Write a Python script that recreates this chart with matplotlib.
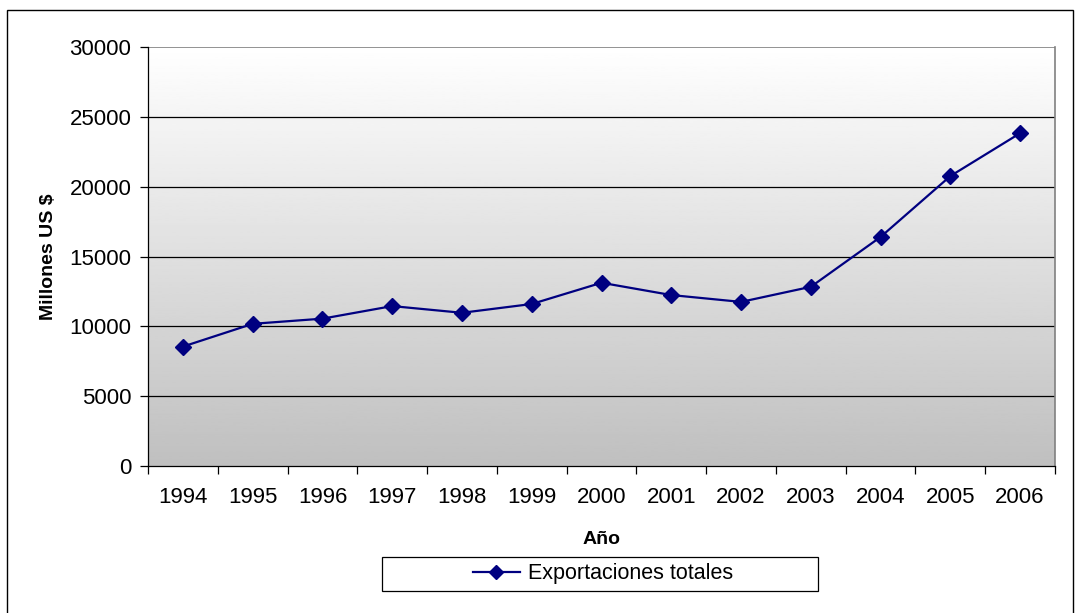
import matplotlib
matplotlib.use('Agg')
import matplotlib.pyplot as plt
import numpy as np
from matplotlib.patches import Rectangle

plt.rcParams['font.family'] = ['Liberation Sans', 'DejaVu Sans']

years = ['1994', '1995', '1996', '1997', '1998', '1999', '2000',
         '2001', '2002', '2003', '2004', '2005', '2006']
exports = [8550, 10180, 10550, 11450, 10970, 11600, 13120,
           12240, 11750, 12830, 16400, 20760, 23830]
yticks = [0, 5000, 10000, 15000, 20000, 25000, 30000]
series_name = 'Exportaciones totales'


def main():
    fig = plt.figure(figsize=(10.75, 6.13), dpi=100)
    ax = fig.add_axes([0.1377, 0.2398, 0.8437, 0.6835])

    x = np.arange(len(years))
    ax.set_xlim(-0.5, len(years) - 0.5)
    ax.set_ylim(0, 30000)

    # gradient background, white at top to grey at bottom
    grad = np.linspace(0.75, 1.0, 256).reshape(-1, 1)
    ax.imshow(grad, cmap='gray', vmin=0, vmax=1, aspect='auto', origin='lower',
              extent=[-0.5, len(years) - 0.5, 0, 30000], zorder=0)

    for t in yticks[1:-1]:
        ax.axhline(t, color='black', lw=0.9, zorder=1)
    ax.axhline(30000, color='#808080', lw=1.2, zorder=1)

    ax.plot(x, exports, color='#000080', lw=1.6, marker='D', markersize=8,
            label=series_name, zorder=3)

    ax.set_yticks(yticks)
    ax.set_yticklabels([str(t) for t in yticks], fontsize=16)
    ax.set_xticks(x)
    ax.set_xticklabels(years, fontsize=16)
    ax.set_xticks(np.arange(-0.5, len(years)), minor=True)
    ax.tick_params(axis='x', which='major', length=0, pad=15)
    ax.tick_params(axis='x', which='minor', length=6, direction='out', width=0.9)
    ax.tick_params(axis='y', length=6, direction='out', width=0.9, pad=6)

    for s in ['left', 'bottom']:
        ax.spines[s].set_color('black')
        ax.spines[s].set_linewidth(0.9)
    ax.spines['right'].set_color('#808080')
    ax.spines['right'].set_linewidth(1.2)
    ax.spines['top'].set_visible(False)

    ax.set_xlabel('Año', fontsize=14, fontweight='bold', labelpad=17)
    ax.set_ylabel('Millones US $', fontsize=14, fontweight='bold', labelpad=9)

    # legend box drawn separately so the entry stays centred in it
    fig.patches.append(Rectangle((382 / 1075, 22 / 613), 436 / 1075, 34 / 613,
                                 transform=fig.transFigure, facecolor='white',
                                 edgecolor='black', lw=0.9))
    leg = fig.legend(loc='center', bbox_to_anchor=(0.561, 0.064), frameon=False,
                     fontsize=15.5, handlelength=2.2, handletextpad=0.4,
                     borderaxespad=0, markerscale=0.85)

    fig.patches.append(Rectangle((7 / 1075, -0.01), 1066 / 1075, 1 - 10 / 613 + 0.01,
                                 transform=fig.transFigure, fill=False,
                                 edgecolor='black', lw=1.0))

    fig.savefig('out.png', dpi=100)


if __name__ == '__main__':
    main()
